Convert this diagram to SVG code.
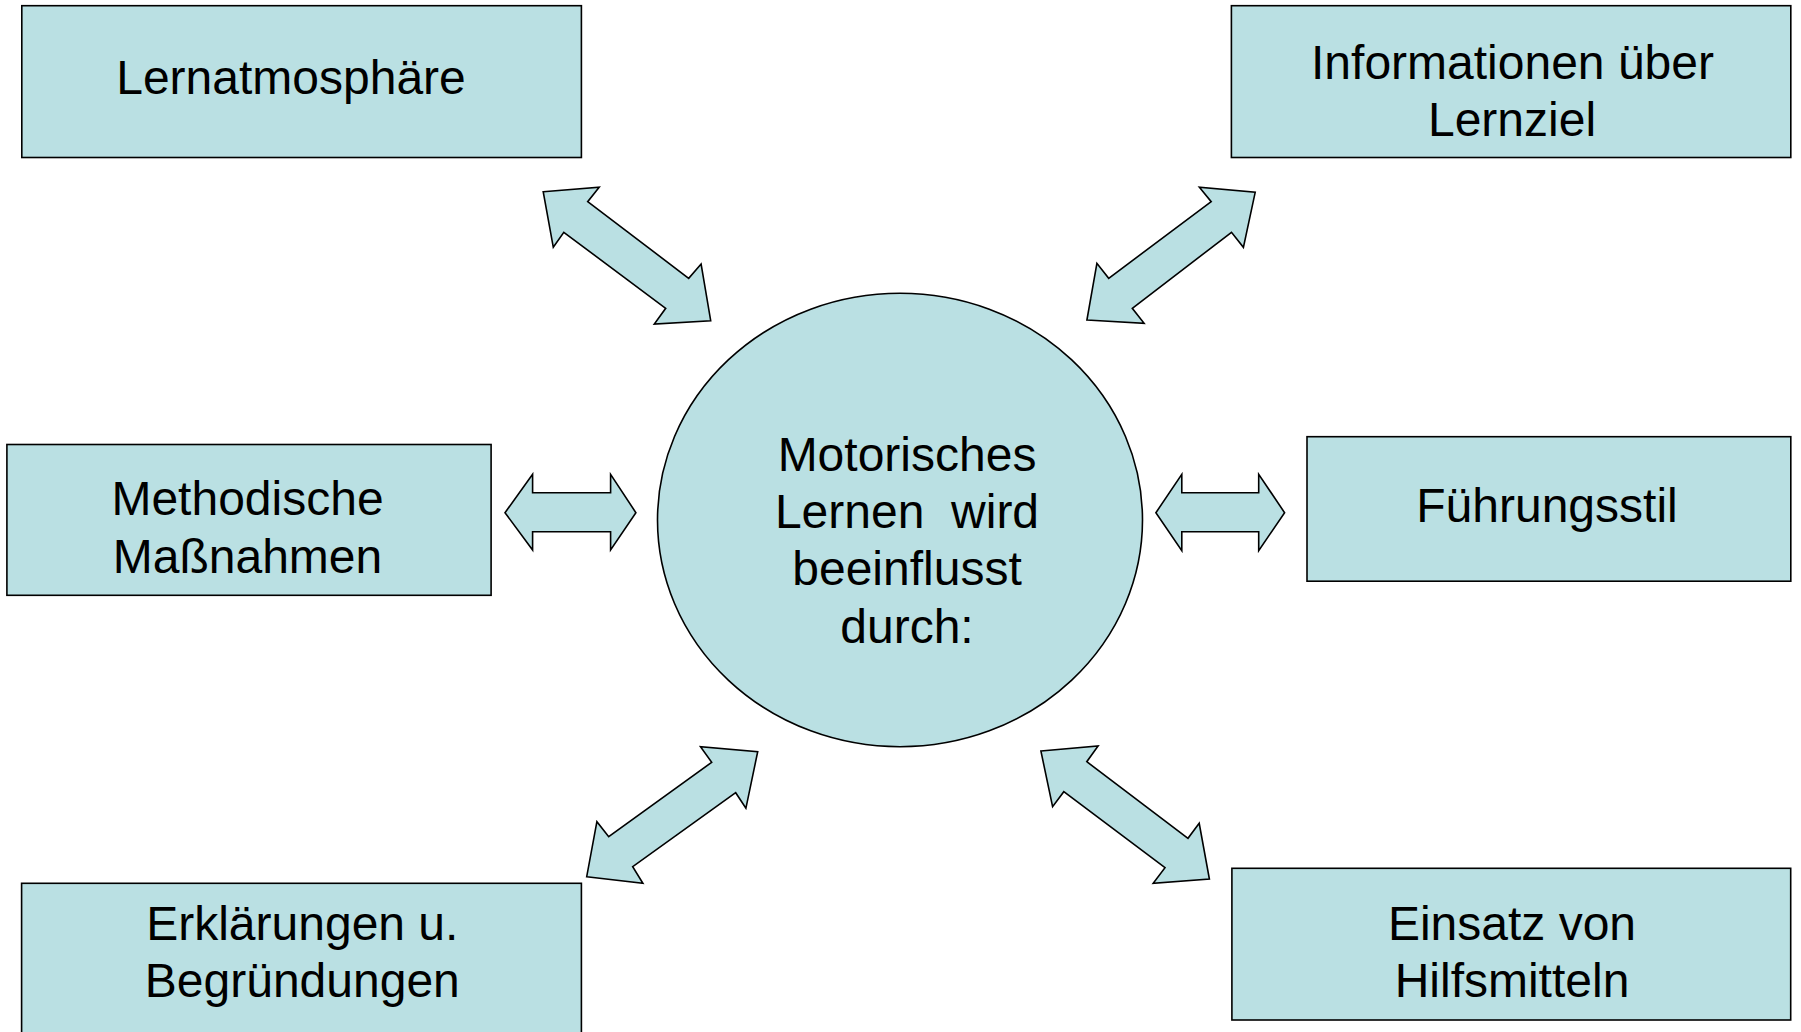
<svg xmlns="http://www.w3.org/2000/svg" width="1801" height="1032" viewBox="0 0 1801 1032">
<style>
.box{fill:#BAE0E3;stroke:#000;stroke-width:1.6}
.arr{fill:#BAE0E3;stroke:#000;stroke-width:1.6;stroke-linejoin:miter}
.t{font-family:"Liberation Sans",Arial,sans-serif;font-size:48px;fill:#000;text-anchor:middle;white-space:pre}
</style>
<rect width="1801" height="1032" fill="#fff"/>
<g id="connectors">
<polygon class="arr" points="543.2,191.7 599.2,187.3 587.7,201.7 688.7,278.3 701.1,264 710.7,320.7 654.3,324 665.7,308.3 563.8,232.3 553.3,247.3"/>
<polygon class="arr" points="1086.9,320 1144.1,323.3 1132.3,308.3 1231.5,232.3 1243.4,247.3 1255.2,192.3 1199.4,187.3 1211.2,201.7 1108.7,278.3 1096.9,263.3"/>
<polygon class="arr" points="505,512.7 532.6,474.3 532.6,492.7 610.6,492.7 610.6,474.3 635.9,512.7 610.6,550 610.6,531.7 532.6,531.7 532.6,550"/>
<polygon class="arr" points="1155.9,512.7 1181.8,474.3 1181.8,492.7 1258.7,492.7 1258.7,474.3 1284.6,512.7 1258.7,550.7 1258.7,531.7 1181.8,531.7 1181.8,550.7"/>
<polygon class="arr" points="586.7,876.7 642.9,883.3 632.7,866.7 735.7,792.7 745.9,808.3 757.7,751.7 700.5,746.7 711.7,762.3 608.7,836.7 596.9,821.7"/>
<polygon class="arr" points="1040.9,751 1098.1,746 1086.8,761.7 1188,838.3 1199.2,823.3 1209.4,879 1153.2,883.3 1165,867.7 1063.8,791.7 1052.6,806.7"/>
</g>
<g id="center">
<ellipse class="box" cx="900" cy="520" rx="242.5" ry="226.7"/>
<text class="t" x="907" y="471">Motorisches</text>
<text class="t" x="907" y="528.3">Lernen  wird</text>
<text class="t" x="907" y="585">beeinflusst</text>
<text class="t" x="907" y="642.7">durch:</text>
</g>
<g id="lernatmosphaere">
<rect class="box" x="21.8" y="5.7" width="559.6" height="151.8"/>
<text class="t" x="291" y="93.5">Lernatmosphäre</text>
</g>
<g id="informationen">
<rect class="box" x="1231.4" y="5.7" width="559.4" height="151.8"/>
<text class="t" x="1512.5" y="79">Informationen über</text>
<text class="t" x="1512" y="135.5">Lernziel</text>
</g>
<g id="methodische">
<rect class="box" x="6.9" y="444.5" width="484.2" height="150.8"/>
<text class="t" x="247.5" y="514.5">Methodische</text>
<text class="t" x="247.5" y="573.3">Maßnahmen</text>
</g>
<g id="fuehrungsstil">
<rect class="box" x="1307" y="436.7" width="483.8" height="144.5"/>
<text class="t" x="1547" y="521.7">Führungsstil</text>
</g>
<g id="erklaerungen">
<rect class="box" x="21.6" y="883.3" width="559.8" height="152"/>
<text class="t" x="302.3" y="940">Erklärungen u.</text>
<text class="t" x="302.3" y="996.7">Begründungen</text>
</g>
<g id="hilfsmittel">
<rect class="box" x="1231.9" y="868.3" width="558.8" height="151.7"/>
<text class="t" x="1512" y="940">Einsatz von</text>
<text class="t" x="1512" y="996.7">Hilfsmitteln</text>
</g>
</svg>
